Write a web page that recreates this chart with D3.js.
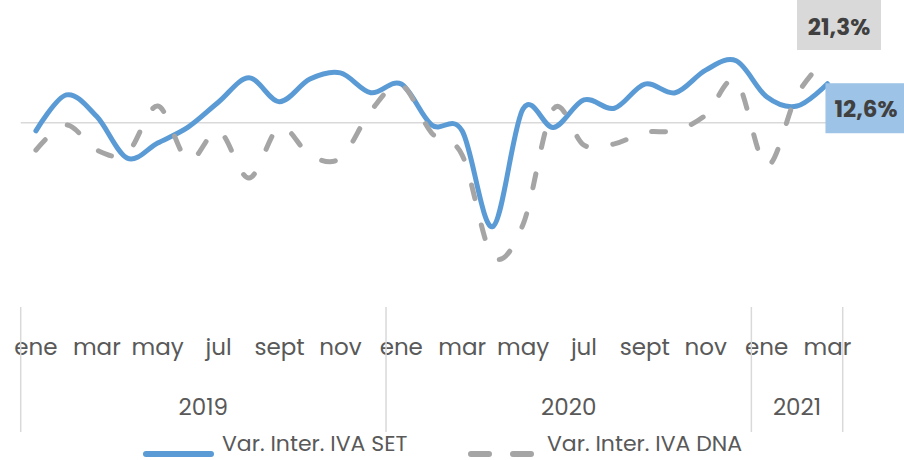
<!DOCTYPE html>
<html>
<head>
<meta charset="utf-8">
<script src="https://cdn.jsdelivr.net/npm/d3@7"></script>
<style>
  html, body { margin: 0; padding: 0; background: #ffffff; }
  svg { display: block; font-family: "Poppins", "Open Sans", sans-serif; }
</style>
</head>
<body>
<svg id="chart" width="904" height="460"></svg>
<script>
// ---- data ----
const months = ["ene","feb","mar","abr","may","jun","jul","ago","sept","oct","nov","dic",
                "ene","feb","mar","abr","may","jun","jul","ago","sept","oct","nov","dic",
                "ene","feb","mar"];
const years = ["2019","2020","2021"];
const yearMonthCounts = [12, 12, 3];
const seriesNames = ["Var. Inter. IVA SET", "Var. Inter. IVA DNA"];
const ivaSET = [-2.6, 9.0, 2.0, -11.4, -6.5, -1.4, 6.7, 14.5, 6.8, 14.1, 16.1, 9.7,
                12.5, -0.7, -2.6, -33.5, 4.5, -1.5, 7.4, 4.7, 12.5, 9.7, 17.0, 20.0,
                8.4, 5.4, 12.6];
const ivaDNA = [-8.8, -0.7, -8.8, -9.7, 5.4, -12.0, -2.6, -17.8, -1.4, -10.4, -11.4, 3.8,
                12.2, -3.3, -10.4, -43.0, -32.8, 4.5, -7.2, -6.8, -3.1, -2.5, 2.5, 13.5,
                -13.8, 9.0, 21.3];
const lastLabels = ["12,6%", "21,3%"];

// ---- layout ----
const svg = d3.select("#chart");
const idx = d3.range(months.length);
const x = d3.scaleBand().domain(idx).range([20.7, 842.7]).padding(0);
const cx = i => x(i) + x.bandwidth() / 2;
const y = d3.scaleLinear().domain([-50, 35]).range([277.8, 14.3]);

const blue = "#5b9bd5", gray = "#a5a5a5", axisGray = "#d9d9d9", textGray = "#595959";

// zero line
svg.append("line")
  .attr("x1", x.range()[0]).attr("x2", x.range()[1])
  .attr("y1", y(0)).attr("y2", y(0))
  .attr("stroke", axisGray).attr("stroke-width", 1.5);

// lines
const line = d3.line().x((d, i) => cx(i)).y(d => y(d)).curve(d3.curveCardinal.tension(0));

svg.append("path").datum(ivaSET)
  .attr("d", line).attr("fill", "none")
  .attr("stroke", blue).attr("stroke-width", 5).attr("stroke-linecap", "round").attr("stroke-linejoin", "round");

svg.append("path").datum(ivaDNA)
  .attr("d", line).attr("fill", "none")
  .attr("stroke", gray).attr("stroke-width", 5).attr("stroke-linecap", "round")
  .attr("stroke-dasharray", "14,27");

// axis: month labels (every other month)
const axis = d3.axisBottom(x)
  .tickValues(idx.filter(i => i % 2 === 0))
  .tickFormat(i => months[i])
  .tickSize(0);
const gAxis = svg.append("g").call(axis);
gAxis.select(".domain").remove();
gAxis.selectAll("text")
  .attr("y", 355).attr("dy", null)
  .attr("fill", textGray)
  .style("font-family", "Poppins, 'Open Sans', sans-serif")
  .style("font-size", "23px");

// group separators and year labels
let start = 0;
const bounds = [0];
yearMonthCounts.forEach(c => { start += c; bounds.push(start); });
bounds.forEach(b => {
  const bx = b < months.length ? x(b) : x.range()[1];
  svg.append("line")
    .attr("x1", bx).attr("x2", bx).attr("y1", 307).attr("y2", 432)
    .attr("stroke", axisGray).attr("stroke-width", 1.5);
});
years.forEach((yr, k) => {
  const a = x(bounds[k]);
  const b = bounds[k + 1] < months.length ? x(bounds[k + 1]) : x.range()[1];
  svg.append("text")
    .attr("x", (a + b) / 2).attr("y", 415)
    .attr("text-anchor", "middle")
    .attr("fill", textGray)
    .style("font-size", "23px")
    .text(yr);
});

// data labels at last point
const lastI = months.length - 1;
svg.append("rect").attr("x", 797).attr("y", 0).attr("width", 84).attr("height", 50).attr("fill", "#d9d9d9");
svg.append("text").attr("x", 839).attr("y", 35).attr("text-anchor", "middle")
  .attr("fill", "#404040").style("font-size", "23px").style("font-weight", "bold")
  .text(lastLabels[1]);
svg.append("rect").attr("x", cx(lastI) - 2).attr("y", y(ivaSET[lastI]) - 0.5).attr("width", 82).attr("height", 50).attr("fill", "#9dc3e6");
svg.append("text").attr("x", 866).attr("y", y(ivaSET[lastI]) + 33).attr("text-anchor", "middle")
  .attr("fill", "#404040").style("font-size", "23px").style("font-weight", "bold")
  .text(lastLabels[0]);

// legend
const lg = svg.append("g");
lg.append("line").attr("x1", 146).attr("x2", 211).attr("y1", 454).attr("y2", 454)
  .attr("stroke", blue).attr("stroke-width", 6).attr("stroke-linecap", "round");
lg.append("text").attr("x", 222).attr("y", 451).attr("fill", textGray).style("font-size", "22px").text(seriesNames[0]);
lg.append("line").attr("x1", 471).attr("x2", 535).attr("y1", 454).attr("y2", 454)
  .attr("stroke", gray).attr("stroke-width", 6).attr("stroke-linecap", "round")
  .attr("stroke-dasharray", "18,24");
lg.append("text").attr("x", 547).attr("y", 451).attr("fill", textGray).style("font-size", "22px").text(seriesNames[1]);
</script>
</body>
</html>
